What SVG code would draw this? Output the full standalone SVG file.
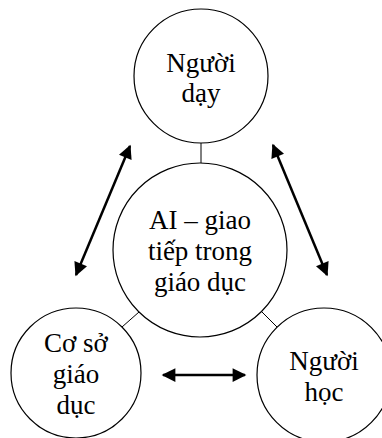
<svg xmlns="http://www.w3.org/2000/svg" width="382" height="438" viewBox="0 0 382 438">
<style>
.c{fill:#fff;stroke:#000;stroke-width:1.2}
.t{font-family:"Liberation Serif","Times New Roman",serif;font-size:27px;fill:#000;text-anchor:middle}
.l{stroke:#000;stroke-width:1}
.a{stroke:#000;stroke-width:2.5;fill:none;marker-start:url(#ah);marker-end:url(#ah)}
</style>
<defs>
<marker id="ah" viewBox="0 0 10 10" refX="9" refY="5" markerWidth="6.5" markerHeight="5.5" orient="auto-start-reverse" markerUnits="strokeWidth">
<path d="M0,0 L10,5 L0,10 z" fill="#000"/>
</marker>
</defs>
<g id="connectors">
<line class="l" x1="201" y1="143" x2="201" y2="163"/>
<line class="l" x1="122" y1="327" x2="139" y2="312"/>
<line class="l" x1="262" y1="312" x2="278" y2="328"/>
<line class="a" x1="76" y1="275" x2="130" y2="146"/>
<line class="a" x1="273" y1="145" x2="327" y2="275"/>
<line class="a" x1="163" y1="375" x2="245" y2="375"/>
</g>
<g id="top">
<circle class="c" cx="201" cy="76" r="67"/>
<text class="t" x="201" y="72">Người</text>
<text class="t" x="201" y="102">dạy</text>
</g>
<g id="center">
<circle class="c" cx="200" cy="250" r="87"/>
<text class="t" x="200" y="229">AI – giao</text>
<text class="t" x="200" y="260">tiếp trong</text>
<text class="t" x="200" y="291">giáo dục</text>
</g>
<g id="left">
<circle class="c" cx="76" cy="373" r="65"/>
<text class="t" x="76" y="352">Cơ sở</text>
<text class="t" x="76" y="383">giáo</text>
<text class="t" x="76" y="414">dục</text>
</g>
<g id="right">
<circle class="c" cx="324" cy="375" r="67"/>
<text class="t" x="324" y="370">Người</text>
<text class="t" x="324" y="401">học</text>
</g>
</svg>
